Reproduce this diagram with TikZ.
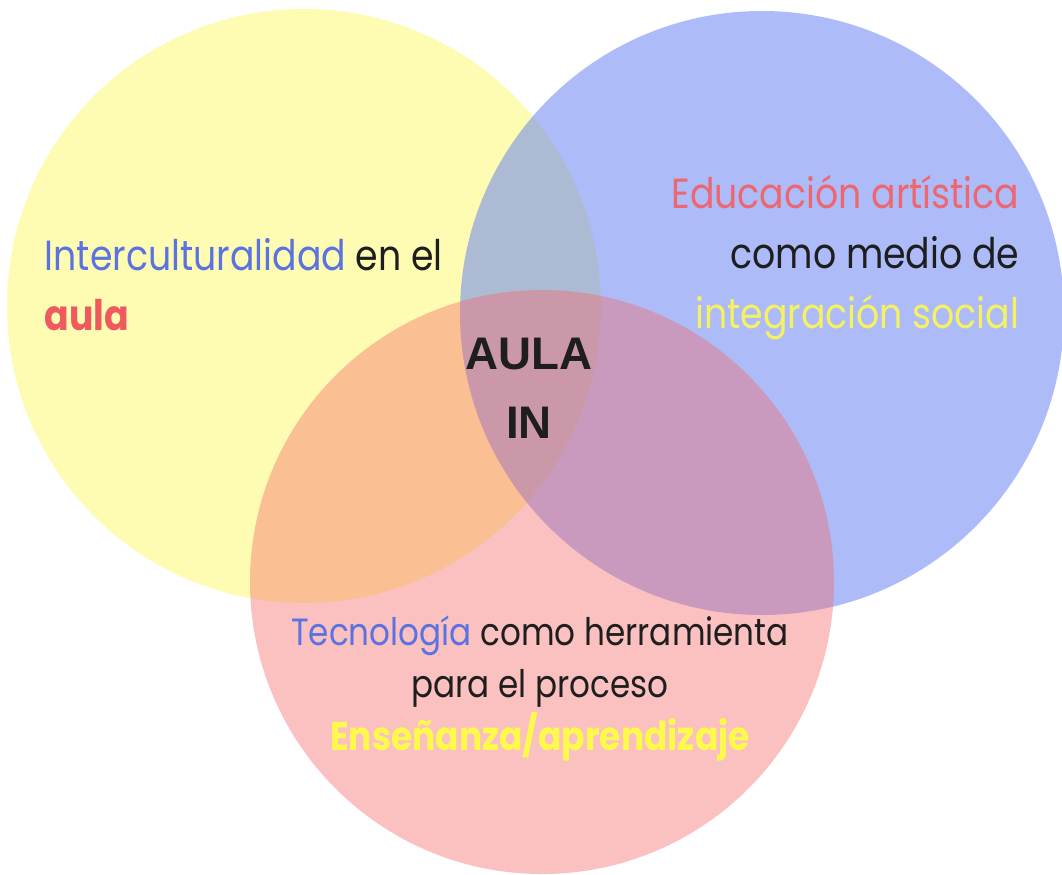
\documentclass[tikz,border=0pt]{standalone}
\usepackage{fontspec}
\setmainfont{Poppins}[FakeStretch=0.86]
\newfontfamily\headfont{Liberation Sans}
\definecolor{circyellow}{HTML}{FEFBB3}
\definecolor{circblue}{HTML}{5D7BF5}
\definecolor{circpink}{HTML}{F76666}
\definecolor{txtblue}{HTML}{5B73E0}
\definecolor{txtred}{HTML}{F05A5E}
\definecolor{txtcoral}{HTML}{EE6670}
\definecolor{txtyellow}{HTML}{F5F162}
\definecolor{txtlemon}{HTML}{FDFA4C}
\definecolor{txtdark}{HTML}{1E1E1E}
\usetikzlibrary{positioning}
\tikzset{
  lbltext/.style={inner sep=0pt, text=txtdark, font=\fontsize{12}{14}\selectfont},
  smalltext/.style={lbltext, font=\fontsize{10.8}{13}\selectfont},
  boldtext/.style={lbltext, font=\fontsize{12}{14}\selectfont\bfseries},
  centretext/.style={inner sep=0pt, text=txtdark, font=\headfont\fontsize{13}{15}\selectfont\bfseries}
}

\begin{document}
\begin{tikzpicture}
    % Canvas
    \useasboundingbox (0,0) rectangle (10.62,-8.74);
    \fill[white] (0,0) rectangle (10.62,-8.74);

    % Circles
    \fill[circyellow] (3.04,-3.06) circle (2.97cm);
    \fill[circblue,opacity=0.5] (7.62,-3.13) circle (3.02cm);
    \fill[circpink,opacity=0.4] (5.42,-5.82) circle (2.92cm);

    % Left circle
    \node[lbltext,anchor=base west] (inter) at (0.44,-2.70)
      {\textcolor{txtblue}{Interculturalidad} en el};
    \node[boldtext,anchor=base west,text=txtred] (aula) at (0.44,-3.30) {aula};

    % Right circle
    \node[lbltext,anchor=base east,text=txtcoral] (edu) at (10.20,-2.08)
      {Educación artística};
    \node[lbltext,anchor=base east] (medio) at (10.20,-2.68) {como medio de};
    \node[lbltext,anchor=base east,text=txtyellow] (integ) at (10.20,-3.28)
      {integración social};

    % Centre
    \node[centretext,anchor=base] (aulatop) at (5.29,-3.69) {AULA};
    \node[centretext,anchor=base] (aulain) at (5.29,-4.38) {IN};

    % Bottom circle
    \node[smalltext,anchor=base] (tecno) at (5.40,-6.45)
      {\textcolor{txtblue}{Tecnología} como herramienta};
    \node[smalltext,anchor=base] (proceso) at (5.40,-6.97) {para el proceso};
    \node[boldtext,anchor=base,text=txtlemon,font=\fontsize{11.4}{13}\selectfont\bfseries]
      (ensen) at (5.40,-7.50) {Enseñanza/aprendizaje};
\end{tikzpicture}
\end{document}
